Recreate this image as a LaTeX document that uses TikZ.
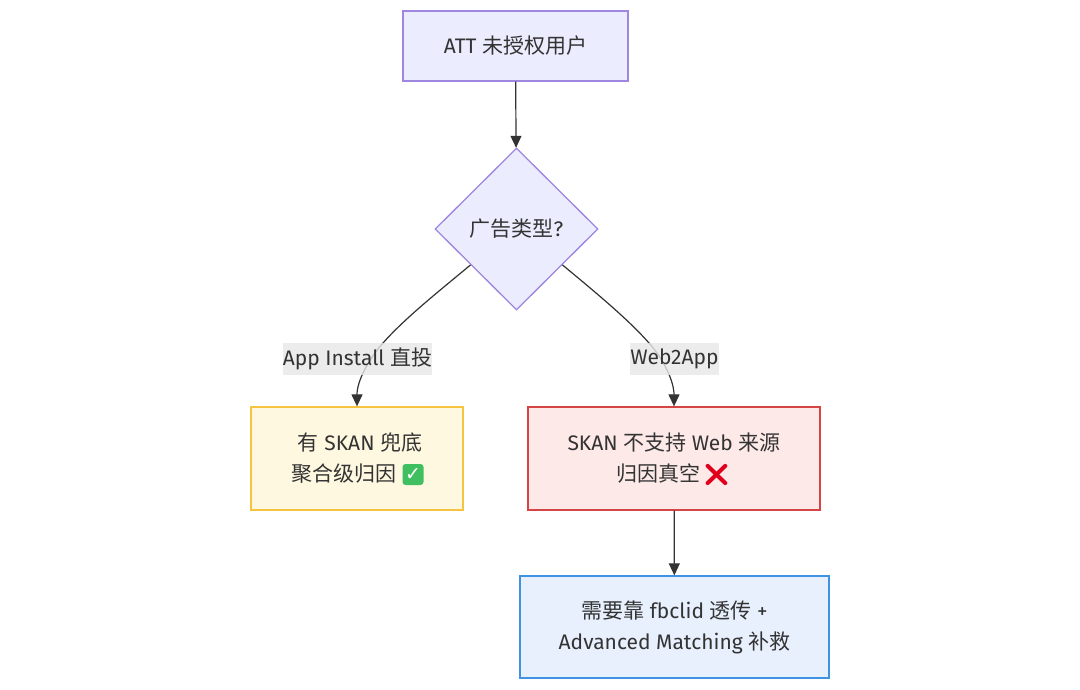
\documentclass[tikz,border=0pt]{standalone}
\usepackage{fontspec}
\usetikzlibrary{shapes.geometric,arrows.meta}
\setmainfont{Fira Sans}
\newfontfamily\cj{Noto Sans CJK SC}
\newfontfamily\emo{Noto Emoji}
\newfontfamily\dv{DejaVu Sans}
\definecolor{ink}{HTML}{333333}
\definecolor{lavf}{HTML}{ECECFF}
\definecolor{lavd}{HTML}{9F86E0}
\definecolor{yelf}{HTML}{FFF8E1}
\definecolor{yeld}{HTML}{F5C542}
\definecolor{redf}{HTML}{FDEAE8}
\definecolor{redd}{HTML}{D64545}
\definecolor{bluf}{HTML}{E8F0FE}
\definecolor{blud}{HTML}{3F93E3}
\definecolor{lab}{HTML}{E8E8E8}
\definecolor{okg}{HTML}{3FBF5F}
\definecolor{xred}{HTML}{E0001B}
\tikzset{
  every node/.style={text=ink,font=\fontsize{21}{31}\selectfont},
  base/.style={draw,line width=1.3pt,inner sep=0pt,align=center},
  flow/.style={ink,line width=1.2pt,-{Triangle[length=12pt,width=11pt]}},
  elabel/.style={fill=lab,fill opacity=.8,text opacity=1,inner sep=0pt,minimum height=32pt,anchor=center},
}
\begin{document}
\begin{tikzpicture}[x=1pt,y=-1pt]
\useasboundingbox[fill=white] (0,0) rectangle (1080,689);
\node[base,draw=lavd,fill=lavf,minimum width=225pt,minimum height=70pt] (att) at (515.5,46) {ATT {\cj 未授权用户}};
\node[base,shape=diamond,aspect=1,draw=lavd,fill=lavf,minimum width=163pt,minimum height=162pt] (dec) at (516.5,229) {{\cj 广告类型}?};
\node[base,draw=yeld,fill=yelf,minimum width=212pt,minimum height=103pt] (yes) at (357,458.5) {\hspace*{6pt}{\cj 有} SKAN {\cj 兜底}\\{\cj 聚合级归因}\hspace*{27pt}};
\node[base,draw=redd,fill=redf,minimum width=292pt,minimum height=103pt] (no) at (674,458.5) {SKAN {\cj 不支持} Web {\cj 来源}\\{\cj 归因真空}\hspace*{31pt}};
\node[base,draw=blud,fill=bluf,minimum width=309pt,minimum height=102pt] (fix) at (674.5,627) {{\cj 需要靠} fbclid {\cj 透传} +\\Advanced Matching {\cj 补救}};
\node[fill=okg,rounded corners=3pt,minimum size=21pt,inner sep=0pt,text=white] (check) at (413,474.5) {\fontsize{19}{19}\selectfont\dv\bfseries ✓};
\node[text=xred,inner sep=0pt] (cross) at (716.5,475) {\fontsize{22}{22}\selectfont\emo ❌};
\draw[flow] (att) -- (dec);
\draw[flow] (dec.218) .. controls +(-30,25) and +(22,-25) .. (383,343) .. controls +(-15,17) and +(0,-25) .. (yes.north);
\draw[flow] (dec.322) .. controls +(30,25) and +(-22,-25) .. (649,343) .. controls +(15,17) and +(0,-25) .. (no.north);
\draw[flow] (no) -- (fix);
\node[elabel,minimum width=149pt] (lab1) at (357.5,359) {App Install {\cj 直投}};
\node[elabel,minimum width=87pt] (lab2) at (674.5,359) {Web2App};
\end{tikzpicture}
\end{document}
